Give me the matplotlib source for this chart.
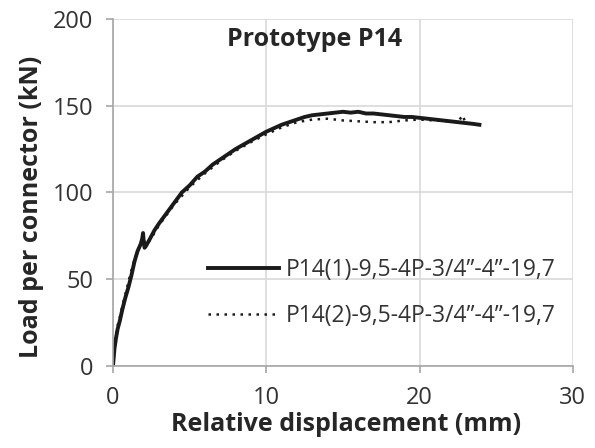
import matplotlib.pyplot as plt

# values (mm, kN)
disp_1 = [0.0, 0.05, 0.1, 0.2, 0.3, 0.45, 0.6, 0.8, 1.0, 1.2, 1.4, 1.6, 1.8, 1.9, 1.96, 2.0, 2.06,
          2.15, 2.4, 2.7, 3.0, 3.5, 4.0, 4.5, 5.0, 5.5, 6.0, 6.5, 7.0, 7.5, 8.0, 8.5, 9.0, 9.5,
          10.0, 10.5, 11.0, 11.5, 12.0, 12.5, 13.0, 13.5, 14.0, 14.5, 15.0, 15.5, 16.0, 16.5,
          17.0, 17.5, 18.0, 18.5, 19.0, 19.5, 20.0, 20.5, 21.0, 21.5, 22.0, 22.5, 23.0, 23.5, 23.9]
load_1 = [0, 5, 10, 16, 21, 26, 32, 39, 45, 52, 60, 66, 70, 73, 76.5, 72, 68,
          69, 73, 78, 82, 88, 94, 100, 104, 109, 112, 116, 119, 122, 125, 127.5, 130, 132.5,
          135, 137, 139, 140.5, 142, 143.5, 144.5, 145, 145.5, 146, 146.5, 146, 146.5, 145.5,
          145.5, 145, 144.5, 144, 143.5, 143.5, 143, 142.5, 142, 141.5, 141, 140.5, 140, 139.5, 139]

disp_2 = [0.0, 0.05, 0.1, 0.2, 0.3, 0.45, 0.6, 0.8, 1.0, 1.2, 1.4, 1.6, 1.8, 1.9, 2.0, 2.1, 2.3,
          2.6, 3.0, 3.5, 4.0, 5.0, 6.0, 7.0, 8.0, 9.0, 10.0, 11.0, 12.0, 13.0, 14.0, 15.0, 16.0,
          17.0, 18.0, 19.0, 20.0, 21.0, 22.0, 22.5, 22.8, 23.0]
load_2 = [0, 7, 12, 18, 23, 28, 34, 41, 48, 55, 61, 66, 70, 73, 74, 70, 71,
          75, 81, 87, 93, 103, 111, 118, 124, 129, 133.5, 137.5, 140.5, 142, 142.5, 141.5, 141,
          140.5, 140.5, 141.5, 142, 141.5, 141, 140.5, 144.5, 140]

x_ticks = [0, 10, 20, 30]
y_ticks = [0, 50, 100, 150, 200]

plt.rcParams['font.family'] = ['Open Sans', 'DejaVu Sans']
dark = '#262626'

fig = plt.figure(figsize=(5.95, 4.48), dpi=100)
ax = fig.add_axes([0.1899, 0.184, 0.773, 0.7734])

ax.plot(disp_1, load_1, color='#1a1a1a', lw=2.8, solid_joinstyle='round',
        label='P14(1)-9,5-4P-3/4\u201d-4\u201d-19,7')
ax.plot(disp_2, load_2, color='#1a1a1a', lw=1.8, linestyle=(0, (1, 2.2)),
        label='P14(2)-9,5-4P-3/4\u201d-4\u201d-19,7')

ax.set_xlim(0, 30)
ax.set_ylim(0, 200)
ax.set_xticks(x_ticks)
ax.set_yticks(y_ticks)
ax.grid(True, color='#d9d9d9', lw=1.2)
ax.set_axisbelow(True)

for s in ['top', 'right']:
    ax.spines[s].set_visible(False)
for s in ['left', 'bottom']:
    ax.spines[s].set_color('#a6a6a6')
    ax.spines[s].set_linewidth(1.2)
ax.tick_params(colors='#a6a6a6', length=5, width=1.2, labelcolor='#333333', labelsize=17, pad=9)
ax.tick_params(axis='x', pad=10)

ax.set_xlabel('Relative displacement (mm)', fontsize=18, fontweight='bold', color=dark)
ax.set_ylabel('Load per connector (kN)', fontsize=18, fontweight='bold', color=dark)
ax.xaxis.set_label_coords(0.507, -0.135)
ax.yaxis.set_label_coords(-0.15, 0.457)

ax.text(0.438, 0.922, 'Prototype P14', transform=ax.transAxes, fontsize=18,
        fontweight='bold', color=dark, ha='center', va='baseline')

ax.legend(loc='center left', bbox_to_anchor=(0.2065, 0.21), frameon=False, fontsize=16.5,
          handlelength=3.1, handletextpad=0.3, labelspacing=0.95, borderpad=0,
          borderaxespad=0, labelcolor='#333333')

fig.savefig('out.png', dpi=100)
